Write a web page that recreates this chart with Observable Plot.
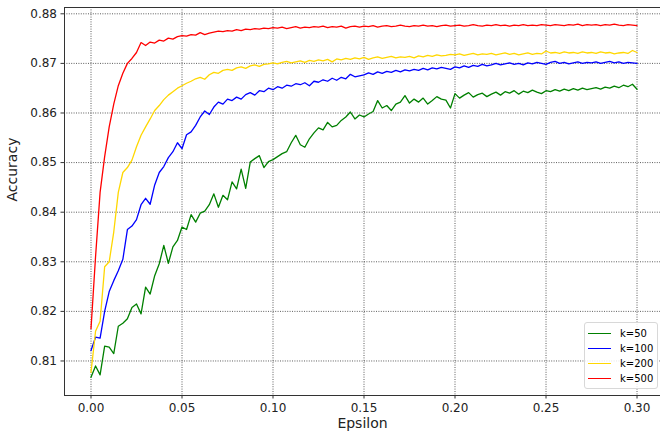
<!DOCTYPE html>
<html>
<head>
<meta charset="utf-8">
<script src="https://cdn.jsdelivr.net/npm/d3@7"></script>
<script src="https://cdn.jsdelivr.net/npm/@observablehq/plot@0.6"></script>
<style>
  html, body { margin: 0; padding: 0; background: #fff; }
  #wrap { position: relative; width: 660px; height: 435px; font-family: "DejaVu Sans", sans-serif; }
  #legend { position: absolute; left: 584px; top: 322px; width: 74px; height: 67px; border: 1px solid #d8d8d8; border-radius: 3px; background: rgba(255,255,255,0.85); box-sizing: border-box; }
  .row { position: absolute; left: 3px; height: 14px; font-size: 10px; color: #000; white-space: nowrap; }
  .row .sw { position: absolute; left: 0; top: 6px; width: 23px; height: 0; border-top: 1.5px solid; }
  .row .lb { position: absolute; left: 32px; top: 0; line-height: 13px; }
</style>
</head>
<body>
<div id="wrap"><div id="chart"></div><div id="legend"></div></div>
<script>
const eps = [
0.0000,0.0025,0.0050,0.0075,0.0100,0.0125,0.0150,0.0175,0.0200,0.0225,
0.0250,0.0275,0.0300,0.0325,0.0350,0.0375,0.0400,0.0425,0.0450,0.0475,
0.0500,0.0525,0.0550,0.0575,0.0600,0.0625,0.0650,0.0675,0.0700,0.0725,
0.0750,0.0775,0.0800,0.0825,0.0850,0.0875,0.0900,0.0925,0.0950,0.0975,
0.1000,0.1025,0.1050,0.1075,0.1100,0.1125,0.1150,0.1175,0.1200,0.1225,
0.1250,0.1275,0.1300,0.1325,0.1350,0.1375,0.1400,0.1425,0.1450,0.1475,
0.1500,0.1525,0.1550,0.1575,0.1600,0.1625,0.1650,0.1675,0.1700,0.1725,
0.1750,0.1775,0.1800,0.1825,0.1850,0.1875,0.1900,0.1925,0.1950,0.1975,
0.2000,0.2025,0.2050,0.2075,0.2100,0.2125,0.2150,0.2175,0.2200,0.2225,
0.2250,0.2275,0.2300,0.2325,0.2350,0.2375,0.2400,0.2425,0.2450,0.2475,
0.2500,0.2525,0.2550,0.2575,0.2600,0.2625,0.2650,0.2675,0.2700,0.2725,
0.2750,0.2775,0.2800,0.2825,0.2850,0.2875,0.2900,0.2925,0.2950,0.2975,
0.3000];

const k50 = [
0.8067,0.8090,0.8072,0.8130,0.8128,0.8115,0.8170,0.8176,0.8185,0.8208,
0.8215,0.8195,0.8249,0.8235,0.8272,0.8296,0.8333,0.8297,0.8330,0.8343,
0.8370,0.8365,0.8395,0.8380,0.8398,0.8402,0.8415,0.8437,0.8410,0.8434,
0.8425,0.8461,0.8447,0.8487,0.8448,0.8501,0.8508,0.8514,0.8490,0.8502,
0.8506,0.8512,0.8518,0.8522,0.8540,0.8555,0.8536,0.8531,0.8548,0.8560,
0.8570,0.8566,0.8581,0.8572,0.8575,0.8585,0.8592,0.8602,0.8588,0.8596,
0.8592,0.8598,0.8603,0.8625,0.8610,0.8615,0.8605,0.8618,0.8622,0.8635,
0.8620,0.8628,0.8622,0.8630,0.8618,0.8625,0.8633,0.8628,0.8626,0.8610,
0.8639,0.8630,0.8636,0.8641,0.8632,0.8637,0.8640,0.8633,0.8638,0.8642,
0.8636,0.8643,0.8640,0.8645,0.8638,0.8644,0.8641,0.8646,0.8642,0.8639,
0.8645,0.8643,0.8647,0.8644,0.8648,0.8645,0.8649,0.8646,0.8650,0.8647,
0.8649,0.8651,0.8648,0.8652,0.8650,0.8654,0.8651,0.8656,0.8653,0.8658,
0.8648];

const k100 = [
0.8121,0.8148,0.8146,0.8200,0.8240,0.8262,0.8282,0.8305,0.8365,0.8372,
0.8385,0.8415,0.8428,0.8416,0.8455,0.8480,0.8492,0.8510,0.8522,0.8540,
0.8528,0.8556,0.8562,0.8575,0.8592,0.8604,0.8597,0.8612,0.8622,0.8618,
0.8628,0.8625,0.8632,0.8628,0.8637,0.8641,0.8636,0.8645,0.8643,0.8650,
0.8647,0.8653,0.8650,0.8656,0.8654,0.8659,0.8657,0.8661,0.8655,0.8664,
0.8662,0.8667,0.8664,0.8670,0.8666,0.8672,0.8669,0.8678,0.8673,0.8675,
0.8677,0.8681,0.8678,0.8683,0.8680,0.8684,0.8682,0.8686,0.8683,0.8687,
0.8685,0.8688,0.8686,0.8690,0.8687,0.8691,0.8689,0.8692,0.8690,0.8688,
0.8693,0.8691,0.8695,0.8692,0.8696,0.8694,0.8698,0.8695,0.8697,0.8700,
0.8697,0.8699,0.8701,0.8698,0.8700,0.8697,0.8701,0.8699,0.8702,0.8700,
0.8698,0.8702,0.8704,0.8700,0.8702,0.8699,0.8701,0.8703,0.8700,0.8702,
0.8701,0.8703,0.8700,0.8702,0.8704,0.8701,0.8703,0.8700,0.8702,0.8701,
0.8700];

const k200 = [
0.8077,0.8160,0.8180,0.8290,0.8300,0.8360,0.8440,0.8480,0.8490,0.8505,
0.8532,0.8555,0.8572,0.8588,0.8605,0.8615,0.8627,0.8636,0.8643,0.8650,
0.8655,0.8660,0.8664,0.8669,0.8672,0.8668,0.8677,0.8682,0.8680,0.8686,
0.8688,0.8686,0.8691,0.8693,0.8690,0.8695,0.8697,0.8694,0.8698,0.8699,
0.8701,0.8699,0.8702,0.8704,0.8701,0.8703,0.8705,0.8702,0.8706,0.8704,
0.8707,0.8705,0.8708,0.8703,0.8709,0.8707,0.8710,0.8708,0.8711,0.8709,
0.8712,0.8708,0.8711,0.8713,0.8710,0.8712,0.8714,0.8711,0.8713,0.8712,
0.8714,0.8711,0.8715,0.8713,0.8716,0.8714,0.8717,0.8715,0.8716,0.8718,
0.8717,0.8719,0.8716,0.8718,0.8720,0.8717,0.8719,0.8718,0.8720,0.8717,
0.8719,0.8721,0.8718,0.8720,0.8717,0.8719,0.8721,0.8718,0.8720,0.8719,
0.8725,0.8721,0.8722,0.8720,0.8723,0.8721,0.8722,0.8720,0.8723,0.8721,
0.8722,0.8720,0.8723,0.8721,0.8722,0.8719,0.8721,0.8722,0.8720,0.8726,
0.8722];

const k500 = [
0.8165,0.8310,0.8440,0.8512,0.8572,0.8618,0.8655,0.8680,0.8700,0.8710,
0.8722,0.8742,0.8736,0.8743,0.8741,0.8747,0.8745,0.8751,0.8749,0.8754,
0.8756,0.8755,0.8758,0.8757,0.8762,0.8758,0.8761,0.8763,0.8765,0.8764,
0.8766,0.8765,0.8768,0.8766,0.8769,0.8768,0.8770,0.8769,0.8771,0.8770,
0.8772,0.8771,0.8773,0.8770,0.8772,0.8774,0.8771,0.8773,0.8772,0.8774,
0.8773,0.8775,0.8772,0.8774,0.8773,0.8775,0.8771,0.8774,0.8775,0.8773,
0.8775,0.8774,0.8776,0.8773,0.8775,0.8776,0.8774,0.8775,0.8777,0.8775,
0.8774,0.8776,0.8775,0.8777,0.8775,0.8776,0.8774,0.8776,0.8777,0.8775,
0.8776,0.8777,0.8775,0.8776,0.8778,0.8776,0.8775,0.8777,0.8776,0.8778,
0.8776,0.8777,0.8775,0.8777,0.8776,0.8778,0.8776,0.8777,0.8776,0.8778,
0.8777,0.8776,0.8778,0.8777,0.8776,0.8778,0.8777,0.8779,0.8776,0.8778,
0.8777,0.8778,0.8776,0.8778,0.8777,0.8779,0.8777,0.8776,0.8778,0.8777,
0.8776];

const seriesNames = ["k=50", "k=100", "k=200", "k=500"];
const seriesColors = ["green", "blue", "gold", "red"];
const xTicks = [0.00, 0.05, 0.10, 0.15, 0.20, 0.25, 0.30];
const yTicks = [0.81, 0.82, 0.83, 0.84, 0.85, 0.86, 0.87, 0.88];
const xLabel = "Epsilon";
const yLabel = "Accuracy";

const allSeries = [k50, k100, k200, k500];
const rows = [];
allSeries.forEach((vals, s) => {
  vals.forEach((v, i) => rows.push({eps: eps[i], acc: v, k: seriesNames[s]}));
});

const xDom = [-0.01456, 0.3129];
const yDom = [0.80304, 0.88127];

const chart = Plot.plot({
  width: 660,
  height: 435,
  marginLeft: 64,
  marginRight: 0,
  marginTop: 7,
  marginBottom: 40,
  style: {fontFamily: "DejaVu Sans, sans-serif", background: "#fff", overflow: "visible"},
  x: {domain: xDom},
  y: {domain: yDom},
  color: {domain: seriesNames, range: seriesColors},
  marks: [
    Plot.ruleX(xTicks, {stroke: "#333", strokeWidth: 0.8, strokeDasharray: "1,1.4"}),
    Plot.ruleY(yTicks, {stroke: "#333", strokeWidth: 0.8, strokeDasharray: "1,1.4"}),
    Plot.line(rows, {x: "eps", y: "acc", z: "k", stroke: "k", strokeWidth: 1.3, strokeLinejoin: "round"}),
    Plot.ruleX([xDom[0]], {stroke: "#333", strokeWidth: 1}),
    Plot.ruleY([yDom[0]], {stroke: "#333", strokeWidth: 1}),
    Plot.ruleY([yDom[1]], {stroke: "#333", strokeWidth: 1}),
    Plot.axisX({ticks: xTicks, tickFormat: d3.format(".2f"), tickSize: 3.5, tickPadding: 4, fontSize: 12, stroke: "#333", color: "#222", label: null}),
    Plot.axisY({ticks: yTicks, tickFormat: d3.format(".2f"), tickSize: 3.5, tickPadding: 4, fontSize: 12, stroke: "#333", color: "#222", label: null}),
    Plot.text([xLabel], {frameAnchor: "bottom", dy: 32, fontSize: 14, fill: "#222", text: d => d}),
    Plot.text([yLabel], {frameAnchor: "left", dx: -52, rotate: -90, fontSize: 14, fill: "#222", text: d => d})
  ]
});
document.getElementById("chart").appendChild(chart);

const legend = document.getElementById("legend");
const legTops = [4, 19, 34, 49];
seriesNames.forEach((n, i) => {
  const r = document.createElement("div");
  r.className = "row";
  r.style.top = legTops[i] + "px";
  r.innerHTML = `<span class="sw" style="border-color:${seriesColors[i]}"></span><span class="lb">${n}</span>`;
  legend.appendChild(r);
});
</script>
</body>
</html>
